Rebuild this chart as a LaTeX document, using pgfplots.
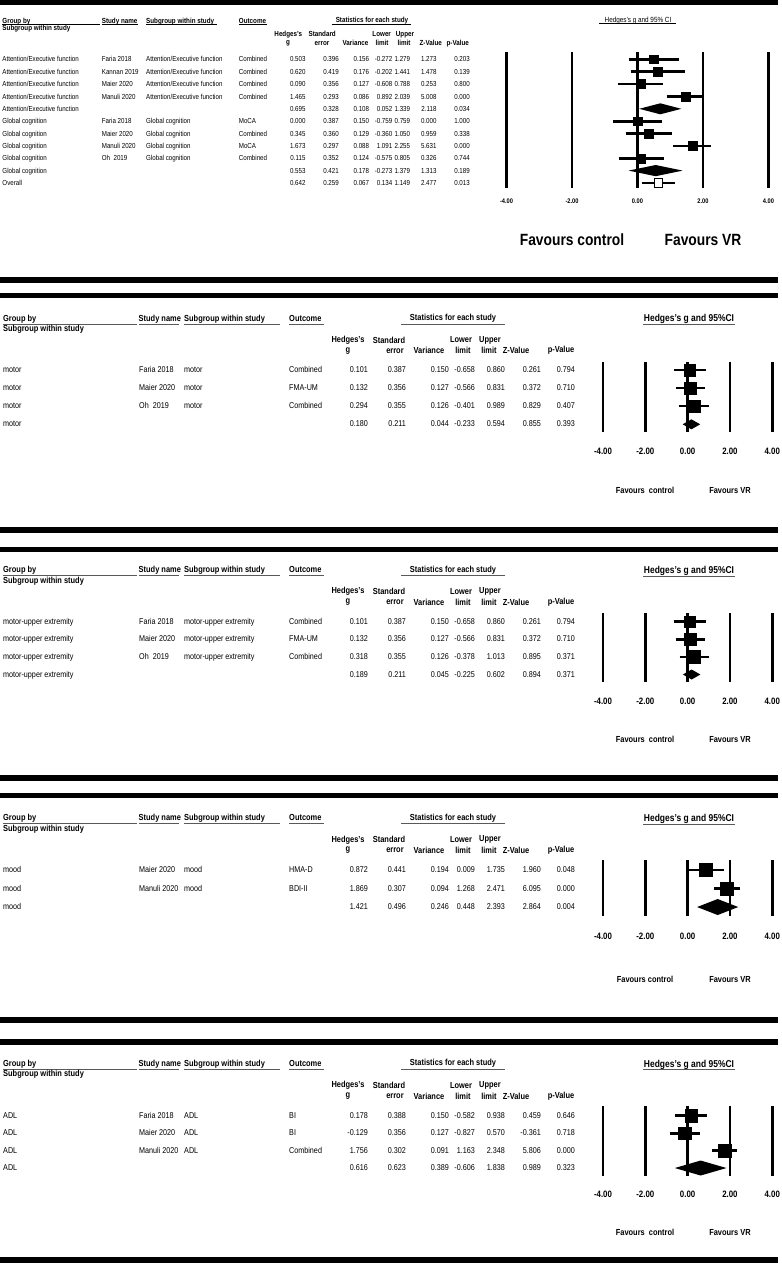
\documentclass[border=0pt]{standalone}
\usepackage{fontspec}
\setmainfont{Liberation Sans}[FakeStretch=0.85]
\usepackage{pgfplots}
\pgfplotsset{compat=1.18}
\tikzset{tx/.style={inner sep=0pt}, ul/.style={line width=0.7bp}, ug/.style={line width=0.8bp, black!65}}
\newcommand\rowL[5]{%
 \node[tx,anchor=mid west] at (\cA,-#1) {#2};
 \node[tx,anchor=mid west] at (\cB,-#1) {#3};
 \node[tx,anchor=mid west] at (\cC,-#1) {#4};
 \node[tx,anchor=mid west] at (\cD,-#1) {#5};}
\newcommand\rowN[8]{%
 \node[tx,anchor=mid east] at (\cE,-#1) {#2};
 \node[tx,anchor=mid east] at (\cF,-#1) {#3};
 \node[tx,anchor=mid east] at (\cG,-#1) {#4};
 \node[tx,anchor=mid east] at (\cH,-#1) {#5};
 \node[tx,anchor=mid east] at (\cI,-#1) {#6};
 \node[tx,anchor=mid east] at (\cJ,-#1) {#7};
 \node[tx,anchor=mid east] at (\cK,-#1) {#8};}
\newcommand\phead{%
 \node[tx,anchor=mid west] at (3,-318.5) {Group by};
 \draw[ug] (3,-324) -- (137,-324);
 \node[tx,anchor=mid west] at (3,-329) {Subgroup within study};
 \node[tx,anchor=mid west] at (138.5,-318.5) {Study name}; \draw[ug] (139,-324)--(179,-324);
 \node[tx,anchor=mid west] at (184,-318.5) {Subgroup within study}; \draw[ug] (184,-324)--(280,-324);
 \node[tx,anchor=mid west] at (289,-318.5) {Outcome}; \draw[ug] (289,-324)--(324,-324);
 \node[tx] at (453,-318.5) {Statistics for each study}; \draw[ug] (401,-324)--(505,-324);
 \node[tx] at (348,-340) {Hedges's}; \node[tx] at (348,-350.7) {g};
 \node[tx] at (389,-340) {Standard}; \node[tx] at (395,-350.7) {error};
 \node[tx] at (429,-350.7) {Variance};
 \node[tx] at (461,-340) {Lower}; \node[tx] at (463,-350.7) {limit};
 \node[tx] at (490,-340) {Upper}; \node[tx] at (489,-350.7) {limit};
 \node[tx] at (516,-350.7) {Z-Value};
 \node[tx] at (561,-350.7) {p-Value};
 \node[tx,font=\bfseries\fontsize{10}{11}\selectfont] at (689,-319.3) {Hedges's g and 95\%CI};
 \draw[ug] (643,-324.5)--(735,-324.5);}
\pgfplotsset{
 fp/.style={anchor=south west, clip=false, xmin=-4, xmax=4, y=1bp,
   axis line style={draw=none}, major tick length=0pt, ytick=\empty,
   xtick={-4,-2,0,2,4}, xticklabels={-4.00,-2.00,0.00,2.00,4.00},
   xmajorgrids, grid style={black, line width=2.6bp},
   xticklabel style={anchor=mid, inner sep=0pt}},
 ci/.style={line width=2.5bp, black},
 sq/.style={only marks, mark=square*, black, mark size=#1},
 dm/.style={fill=black, draw=none},
}
\begin{document}
\begin{tikzpicture}[x=1bp,y=1bp]
\useasboundingbox (0,0) rectangle (782,-1275);
\fill[white] (0,0) rectangle (782,-1275);
% separator bars
\fill[black] (0,0) rectangle (778,-5);
\fill[black] (0,-277) rectangle (778,-283);
\fill[black] (0,-293) rectangle (778,-298);
\fill[black] (0,-527) rectangle (778,-532.5);
\fill[black] (0,-546.5) rectangle (778,-552);
\fill[black] (0,-775) rectangle (778,-781);
\fill[black] (0,-793) rectangle (778,-798);
\fill[black] (0,-1017) rectangle (778,-1023);
\fill[black] (0,-1039) rectangle (778,-1045);
\fill[black] (0,-1257) rectangle (778,-1263);

% ================= PANEL 1 =================
\begin{scope}[font=\bfseries\fontsize{7.4}{8}\selectfont]
 \node[tx,anchor=mid west] at (2.3,-20.7) {Group by};
 \draw[ul] (2,-24.3) -- (100,-24.3);
 \node[tx,anchor=mid west] at (2.3,-28.3) {Subgroup within study};
 \node[tx,anchor=mid west] at (101.7,-20.7) {Study name}; \draw[ul] (101.7,-24.3)--(138,-24.3);
 \node[tx,anchor=mid west] at (146,-20.7) {Subgroup within study}; \draw[ul] (146,-24.3)--(217,-24.3);
 \node[tx,anchor=mid west] at (238.7,-20.7) {Outcome}; \draw[ul] (238.7,-24.3)--(267,-24.3);
 \node[tx] at (372,-20.3) {Statistics for each study}; \draw[ul] (332,-24.3)--(411,-24.3);
 \node[tx] at (288.3,-34.3) {Hedges's}; \node[tx] at (288,-43.3) {g};
 \node[tx] at (322.2,-34.3) {Standard}; \node[tx] at (322,-43.3) {error};
 \node[tx] at (355.5,-43.3) {Variance};
 \node[tx] at (381.7,-34.3) {Lower}; \node[tx] at (382,-43.3) {limit};
 \node[tx] at (405,-34.3) {Upper}; \node[tx] at (404,-43.3) {limit};
 \node[tx] at (430.8,-43.3) {Z-Value};
 \node[tx] at (457.8,-43.3) {p-Value};
 \node[tx,font=\fontsize{7.5}{8}\selectfont] at (638,-20.3) {Hedges's g and 95\% CI};
 \draw[ul] (599,-23.7)--(676,-23.7);
 \node[tx,font=\bfseries\fontsize{16.3}{18}\selectfont] at (572,-240) {Favours control};
 \node[tx,font=\bfseries\fontsize{16.3}{18}\selectfont] at (703,-240) {Favours VR};
\end{scope}
\begin{scope}[font=\fontsize{7.3}{8}\selectfont]
 \def\cA{2.3}\def\cB{101.7}\def\cC{146}\def\cD{238.7}
 \def\cE{305.7}\def\cF{339}\def\cG{369.3}\def\cH{392.5}\def\cI{410.3}\def\cJ{436.7}\def\cK{470}
 \rowL{59.3}{Attention/Executive function}{Faria 2018}{Attention/Executive function}{Combined}
 \rowN{59.3}{0.503}{0.396}{0.156}{-0.272}{1.279}{1.273}{0.203}
 \rowL{71.7}{Attention/Executive function}{Kannan 2019}{Attention/Executive function}{Combined}
 \rowN{71.7}{0.620}{0.419}{0.176}{-0.202}{1.441}{1.478}{0.139}
 \rowL{84.0}{Attention/Executive function}{Maier 2020}{Attention/Executive function}{Combined}
 \rowN{84.0}{0.090}{0.356}{0.127}{-0.608}{0.788}{0.253}{0.800}
 \rowL{96.4}{Attention/Executive function}{Manuli 2020}{Attention/Executive function}{Combined}
 \rowN{96.4}{1.465}{0.293}{0.086}{0.892}{2.039}{5.008}{0.000}
 \rowL{108.8}{Attention/Executive function}{}{}{}
 \rowN{108.8}{0.695}{0.328}{0.108}{0.052}{1.339}{2.118}{0.034}
 \rowL{121.2}{Global cognition}{Faria 2018}{Global cognition}{MoCA}
 \rowN{121.2}{0.000}{0.387}{0.150}{-0.759}{0.759}{0.000}{1.000}
 \rowL{133.5}{Global cognition}{Maier 2020}{Global cognition}{Combined}
 \rowN{133.5}{0.345}{0.360}{0.129}{-0.360}{1.050}{0.959}{0.338}
 \rowL{145.9}{Global cognition}{Manuli 2020}{Global cognition}{MoCA}
 \rowN{145.9}{1.673}{0.297}{0.088}{1.091}{2.255}{5.631}{0.000}
 \rowL{158.3}{Global cognition}{Oh\ \ 2019}{Global cognition}{Combined}
 \rowN{158.3}{0.115}{0.352}{0.124}{-0.575}{0.805}{0.326}{0.744}
 \rowL{170.6}{Global cognition}{}{}{}
 \rowN{170.6}{0.553}{0.421}{0.178}{-0.273}{1.379}{1.313}{0.189}
 \rowL{183.0}{Overall}{}{}{}
 \rowN{183.0}{0.642}{0.259}{0.067}{0.134}{1.149}{2.477}{0.013}
\end{scope}
\begin{axis}[fp, x=32.75bp, at={(506.5bp,-188bp)}, ymin=-188, ymax=-52,
  grid style={line width=2.8bp},
  xticklabel style={font=\bfseries\fontsize{6.7}{7}\selectfont, yshift=-13bp}]
 \addplot[ci,line width=2.7bp] coordinates {(-0.272,-59.3) (1.279,-59.3)};
 \addplot[ci,line width=2.7bp] coordinates {(-0.202,-71.7) (1.441,-71.7)};
 \addplot[ci,line width=2.7bp] coordinates {(-0.608,-84.0) (0.788,-84.0)};
 \addplot[ci,line width=2.7bp] coordinates {(0.892,-96.4) (2.039,-96.4)};
 \addplot[ci,line width=2.7bp] coordinates {(-0.759,-121.2) (0.759,-121.2)};
 \addplot[ci,line width=2.7bp] coordinates {(-0.360,-133.5) (1.050,-133.5)};
 \addplot[ci,line width=2.7bp] coordinates {(1.091,-145.9) (2.255,-145.9)};
 \addplot[ci,line width=2.7bp] coordinates {(-0.575,-158.3) (0.805,-158.3)};
 \addplot[ci,line width=2.7bp] coordinates {(0.134,-183.0) (1.149,-183.0)};
 \addplot[sq=4.3bp] coordinates {(0.503,-59.3)};
 \addplot[sq=4.3bp] coordinates {(0.620,-71.7)};
 \addplot[sq=4.4bp] coordinates {(0.090,-84.0)};
 \addplot[sq=4.7bp] coordinates {(1.465,-96.4)};
 \addplot[sq=4.3bp] coordinates {(0.000,-121.2)};
 \addplot[sq=4.4bp] coordinates {(0.345,-133.5)};
 \addplot[sq=4.6bp] coordinates {(1.673,-145.9)};
 \addplot[sq=4.4bp] coordinates {(0.115,-158.3)};
 \addplot[dm] coordinates {(0.052,-108.8) (0.695,-103.3) (1.339,-108.8) (0.695,-114.3)} -- cycle;
 \addplot[dm] coordinates {(-0.273,-170.6) (0.553,-165.0) (1.379,-170.6) (0.553,-176.2)} -- cycle;
 \addplot[only marks, mark=square*, mark size=4.2bp, mark options={fill=white, draw=black, line width=0.8bp}] coordinates {(0.642,-183.0)};
\end{axis}

% ================= PANELS 2-5 common columns =================
\def\cA{3}\def\cB{139}\def\cC{184}\def\cD{289}
\def\cE{368}\def\cF{406}\def\cG{449}\def\cH{475}\def\cI{505}\def\cJ{541}\def\cK{575}
\def\hfnt{\bfseries\fontsize{8.8}{10}\selectfont}
\def\rfnt{\fontsize{8.5}{10}\selectfont}

% ---------- PANEL 2 ----------
\begin{scope}[font=\hfnt]
 \phead
 \node[tx] at (645,-490.7) {Favours\hspace{2bp} control};
 \node[tx] at (730,-490.7) {Favours VR};
\end{scope}
\begin{scope}[font=\rfnt]
 \rowL{370}{motor}{Faria 2018}{motor}{Combined}
 \rowN{370}{0.101}{0.387}{0.150}{-0.658}{0.860}{0.261}{0.794}
 \rowL{388.1}{motor}{Maier 2020}{motor}{FMA-UM}
 \rowN{388.1}{0.132}{0.356}{0.127}{-0.566}{0.831}{0.372}{0.710}
 \rowL{406.2}{motor}{Oh\ \ 2019}{motor}{Combined}
 \rowN{406.2}{0.294}{0.355}{0.126}{-0.401}{0.989}{0.829}{0.407}
 \rowL{424.3}{motor}{}{}{}
 \rowN{424.3}{0.180}{0.211}{0.044}{-0.233}{0.594}{0.855}{0.393}
\end{scope}
\begin{axis}[fp, x=21.15bp, at={(603bp,-432bp)}, ymin=-432, ymax=-362,
  xticklabel style={font=\bfseries\fontsize{9.3}{10}\selectfont, yshift=-20.3bp}]
 \addplot[ci] coordinates {(-0.658,-370) (0.860,-370)};
 \addplot[ci] coordinates {(-0.566,-388.1) (0.831,-388.1)};
 \addplot[ci] coordinates {(-0.401,-406.2) (0.989,-406.2)};
 \addplot[sq=5.8bp] coordinates {(0.101,-370)};
 \addplot[sq=6.0bp] coordinates {(0.132,-388.1)};
 \addplot[sq=6.3bp] coordinates {(0.294,-406.2)};
 \addplot[dm] coordinates {(-0.233,-424.3) (0.180,-419.3) (0.594,-424.3) (0.180,-429.3)} -- cycle;
\end{axis}

% ---------- PANEL 3 ----------
\begin{scope}[font=\hfnt, yshift=-251.5bp]
 \phead
\end{scope}
\begin{scope}[font=\hfnt]
 \node[tx] at (645,-739.3) {Favours\hspace{2bp} control};
 \node[tx] at (730,-739.3) {Favours VR};
\end{scope}
\begin{scope}[font=\rfnt]
 \rowL{621.7}{motor-upper extremity}{Faria 2018}{motor-upper extremity}{Combined}
 \rowN{621.7}{0.101}{0.387}{0.150}{-0.658}{0.860}{0.261}{0.794}
 \rowL{639.3}{motor-upper extremity}{Maier 2020}{motor-upper extremity}{FMA-UM}
 \rowN{639.3}{0.132}{0.356}{0.127}{-0.566}{0.831}{0.372}{0.710}
 \rowL{656.9}{motor-upper extremity}{Oh\ \ 2019}{motor-upper extremity}{Combined}
 \rowN{656.9}{0.318}{0.355}{0.126}{-0.378}{1.013}{0.895}{0.371}
 \rowL{674.5}{motor-upper extremity}{}{}{}
 \rowN{674.5}{0.189}{0.211}{0.045}{-0.225}{0.602}{0.894}{0.371}
\end{scope}
\begin{axis}[fp, x=21.15bp, at={(603bp,-682bp)}, ymin=-682, ymax=-613,
  xticklabel style={font=\bfseries\fontsize{9.3}{10}\selectfont, yshift=-20bp}]
 \addplot[ci] coordinates {(-0.658,-621.7) (0.860,-621.7)};
 \addplot[ci] coordinates {(-0.566,-639.3) (0.831,-639.3)};
 \addplot[ci] coordinates {(-0.378,-656.9) (1.013,-656.9)};
 \addplot[sq=5.8bp] coordinates {(0.101,-621.7)};
 \addplot[sq=6.0bp] coordinates {(0.132,-639.3)};
 \addplot[sq=6.3bp] coordinates {(0.318,-656.9)};
 \addplot[dm] coordinates {(-0.225,-674.5) (0.189,-669.5) (0.602,-674.5) (0.189,-679.5)} -- cycle;
\end{axis}

% ---------- PANEL 4 ----------
\begin{scope}[font=\hfnt, yshift=-499.8bp]
 \phead
\end{scope}
\begin{scope}[font=\hfnt]
 \node[tx] at (645,-979.3) {Favours control};
 \node[tx] at (730,-979.3) {Favours VR};
\end{scope}
\begin{scope}[font=\rfnt]
 \rowL{870}{mood}{Maier 2020}{mood}{HMA-D}
 \rowN{870}{0.872}{0.441}{0.194}{0.009}{1.735}{1.960}{0.048}
 \rowL{888.5}{mood}{Manuli 2020}{mood}{BDI-II}
 \rowN{888.5}{1.869}{0.307}{0.094}{1.268}{2.471}{6.095}{0.000}
 \rowL{907}{mood}{}{}{}
 \rowN{907}{1.421}{0.496}{0.246}{0.448}{2.393}{2.864}{0.004}
\end{scope}
\begin{axis}[fp, x=21.15bp, at={(603bp,-916bp)}, ymin=-916, ymax=-860,
  xticklabel style={font=\bfseries\fontsize{9.3}{10}\selectfont, yshift=-20.7bp}]
 \addplot[ci] coordinates {(0.009,-870) (1.735,-870)};
 \addplot[ci] coordinates {(1.268,-888.5) (2.471,-888.5)};
 \addplot[sq=6.5bp] coordinates {(0.872,-870)};
 \addplot[sq=6.5bp] coordinates {(1.869,-888.5)};
 \addplot[dm] coordinates {(0.448,-907) (1.421,-899) (2.393,-907) (1.421,-915)} -- cycle;
\end{axis}

% ---------- PANEL 5 ----------
\begin{scope}[font=\hfnt, yshift=-745.2bp]
 \phead
\end{scope}
\begin{scope}[font=\hfnt]
 \node[tx] at (645,-1232.7) {Favours\hspace{2bp} control};
 \node[tx] at (730,-1232.7) {Favours VR};
\end{scope}
\begin{scope}[font=\rfnt]
 \rowL{1115.7}{ADL}{Faria 2018}{ADL}{BI}
 \rowN{1115.7}{0.178}{0.388}{0.150}{-0.582}{0.938}{0.459}{0.646}
 \rowL{1133.3}{ADL}{Maier 2020}{ADL}{BI}
 \rowN{1133.3}{-0.129}{0.356}{0.127}{-0.827}{0.570}{-0.361}{0.718}
 \rowL{1150.7}{ADL}{Manuli 2020}{ADL}{Combined}
 \rowN{1150.7}{1.756}{0.302}{0.091}{1.163}{2.348}{5.806}{0.000}
 \rowL{1168}{ADL}{}{}{}
 \rowN{1168}{0.616}{0.623}{0.389}{-0.606}{1.838}{0.989}{0.323}
\end{scope}
\begin{axis}[fp, x=21.15bp, at={(603bp,-1176bp)}, ymin=-1176, ymax=-1106,
  xticklabel style={font=\bfseries\fontsize{9.3}{10}\selectfont, yshift=-19bp}]
 \addplot[ci] coordinates {(-0.582,-1115.7) (0.938,-1115.7)};
 \addplot[ci] coordinates {(-0.827,-1133.3) (0.570,-1133.3)};
 \addplot[ci] coordinates {(1.163,-1150.7) (2.348,-1150.7)};
 \addplot[sq=6.2bp] coordinates {(0.178,-1115.7)};
 \addplot[sq=6.2bp] coordinates {(-0.129,-1133.3)};
 \addplot[sq=6.3bp] coordinates {(1.756,-1150.7)};
 \addplot[dm] coordinates {(-0.606,-1168) (0.616,-1160.5) (1.838,-1168) (0.616,-1175.5)} -- cycle;
\end{axis}
\end{tikzpicture}
\end{document}
